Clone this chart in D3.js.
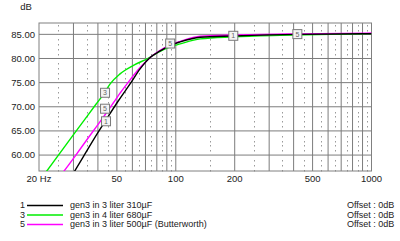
<!DOCTYPE html>
<html>
<head>
<meta charset="utf-8">
<script src="https://cdn.jsdelivr.net/npm/d3@7"></script>
<style>
  html, body { margin: 0; padding: 0; background: #fff; }
  svg { display: block; font-family: "Liberation Sans", Arial, sans-serif; }
</style>
</head>
<body>
<div id="chart"></div>
<script>
// Courbes de réponse (fréquence en Hz, niveau en dB)
const blackFreq = [30.2, 33.6, 40.2, 44.0, 50.9, 58.4, 65.7, 74.0, 83.2, 93.6, 105.3, 133.3, 196.7, 418, 1000];
const blackDb   = [56.46, 59.58, 64.79, 67.29, 71.25, 74.73, 77.85, 80.21, 81.56, 82.71, 83.44, 84.4, 84.65, 85.0, 85.12];

const greenFreq = [21.7, 30.6, 39.1, 43.5, 46.2, 51.9, 60.5, 71.4, 83.2, 93.6, 105.3, 133.3, 196.7, 342, 617, 1000];
const greenDb   = [56.46, 64.69, 70.52, 73.06, 74.73, 76.81, 78.54, 79.94, 81.46, 82.40, 83.02, 84.06, 84.48, 84.79, 85.0, 85.15];

const magentaFreq = [26.6, 30.6, 35.2, 40.1, 43.5, 48.0, 51.9, 56.2, 65.7, 74.0, 83.2, 93.6, 105.3, 133.3, 196.7, 418, 1000];
const magentaDb   = [56.46, 59.79, 63.23, 66.35, 68.35, 70.83, 72.81, 74.69, 78.13, 80.21, 81.67, 82.81, 83.54, 84.6, 84.85, 85.1, 85.27];

const seriesIds    = ['1', '3', '5'];
const seriesNames  = ['gen3 in 3 liter 310µF', 'gen3 in 4 liter 680µF', 'gen3 in 3 liter 500µF (Butterworth)'];
const seriesColors = ['#000000', '#00ee00', '#ff00ff'];
const seriesOffset = ['Offset : 0dB', 'Offset : 0dB', 'Offset : 0dB'];

// Marqueurs numérotés (série, fréquence, niveau)
const markerSeries = ['3', '5', '1', '5', '1', '5'];
const markerFreq   = [43.5, 43.5, 44.0, 93.6, 196.7, 418];
const markerDb     = [72.9, 69.6, 67.0, 83.1, 84.7, 85.05];

const yTicks = [60, 65, 70, 75, 80, 85];
const xTickValues = [20, 50, 100, 200, 500, 1000];
const xTickLabels = ['20 Hz', '50', '100', '200', '500', '1000'];
const majorFreqs = [30, 40, 50, 60, 70, 80, 90, 100, 200, 300, 400, 500, 600, 700, 800, 900];
const minorFreqs = [25, 35, 45, 55, 65, 75, 85, 95, 150, 250, 350, 450, 550, 650, 750, 850, 950];

const width = 400;
const height = 241;
const plot = { left: 39, right: 371.5, top: 23, bottom: 171 };

const svg = d3.select('#chart')
    .append('svg')
    .attr('width', width)
    .attr('height', height);

const x = d3.scaleLog().domain([20, 1000]).range([plot.left, plot.right]);
const y = d3.scaleLinear().domain([56.7, 87.35]).range([plot.bottom, plot.top]);

// Points de la grille secondaire (1 dB)
const dotDb = d3.range(57, 88).filter(v => v % 5 !== 0);
const dots = svg.append('g');
minorFreqs.forEach(f => {
    dots.selectAll(null)
        .data(dotDb)
        .enter()
        .append('rect')
        .attr('x', Math.round(x(f)))
        .attr('y', d => Math.round(y(d)))
        .attr('width', 1)
        .attr('height', 1.5)
        .attr('fill', '#9a9a9a');
});

// Grille principale
svg.append('g')
    .selectAll('line')
    .data(majorFreqs)
    .enter()
    .append('line')
    .attr('x1', d => x(d))
    .attr('x2', d => x(d))
    .attr('y1', plot.top)
    .attr('y2', plot.bottom)
    .attr('stroke', '#7c7c7c')
    .attr('stroke-width', 1);

svg.append('g')
    .selectAll('line')
    .data(yTicks)
    .enter()
    .append('line')
    .attr('x1', plot.left)
    .attr('x2', plot.right)
    .attr('y1', d => y(d))
    .attr('y2', d => y(d))
    .attr('stroke', '#7c7c7c')
    .attr('stroke-width', 1);

// Cadre
svg.append('rect')
    .attr('x', plot.left)
    .attr('y', plot.top)
    .attr('width', plot.right - plot.left)
    .attr('height', plot.bottom - plot.top)
    .attr('fill', 'none')
    .attr('stroke', '#808080')
    .attr('stroke-width', 1);

svg.append('clipPath')
    .attr('id', 'clip')
    .append('rect')
    .attr('x', plot.left)
    .attr('y', plot.top)
    .attr('width', plot.right - plot.left)
    .attr('height', plot.bottom - plot.top);

const line = d3.line()
    .x(d => x(d[0]))
    .y(d => y(d[1]))
    .curve(d3.curveMonotoneX);

const seriesData = {
    '1': d3.zip(blackFreq, blackDb),
    '3': d3.zip(greenFreq, greenDb),
    '5': d3.zip(magentaFreq, magentaDb)
};

const curves = svg.append('g').attr('clip-path', 'url(#clip)');
['3', '5', '1'].forEach(id => {
    const i = seriesIds.indexOf(id);
    curves.append('path')
        .datum(seriesData[id])
        .attr('d', line)
        .attr('fill', 'none')
        .attr('stroke', seriesColors[i])
        .attr('stroke-width', 1.4);
});

// Marqueurs
const markers = svg.append('g')
    .selectAll('g')
    .data(d3.zip(markerSeries, markerFreq, markerDb))
    .enter()
    .append('g')
    .attr('transform', d => `translate(${x(d[1])}, ${y(d[2])})`);

markers.append('rect')
    .attr('x', -4.5)
    .attr('y', -4.5)
    .attr('width', 9)
    .attr('height', 9)
    .attr('fill', '#f4f4f4')
    .attr('stroke', '#7a7a7a')
    .attr('stroke-width', 1);

markers.append('text')
    .attr('text-anchor', 'middle')
    .attr('dy', '0.35em')
    .style('font-size', '7px')
    .style('fill', '#666')
    .text(d => d[0]);

// Axes
svg.append('g')
    .selectAll('text')
    .data(yTicks)
    .enter()
    .append('text')
    .attr('x', 35)
    .attr('y', d => y(d))
    .attr('dy', '0.35em')
    .attr('text-anchor', 'end')
    .style('font-size', '9.5px')
    .style('fill', '#222')
    .text(d => d.toFixed(2));

svg.append('text')
    .attr('x', 26)
    .attr('y', 7)
    .attr('dy', '0.35em')
    .attr('text-anchor', 'middle')
    .style('font-size', '9.5px')
    .style('fill', '#222')
    .text('dB');

svg.append('g')
    .selectAll('text')
    .data(d3.zip(xTickValues, xTickLabels))
    .enter()
    .append('text')
    .attr('x', d => x(d[0]))
    .attr('y', 178.5)
    .attr('dy', '0.35em')
    .attr('text-anchor', 'middle')
    .style('font-size', '9.5px')
    .style('fill', '#222')
    .text(d => d[1]);

// Légende
const legendY = [205, 214.5, 224];
const legend = svg.append('g')
    .selectAll('g')
    .data(seriesIds)
    .enter()
    .append('g')
    .attr('transform', (d, i) => `translate(0, ${legendY[i]})`);

legend.append('text')
    .attr('x', 25)
    .attr('dy', '0.35em')
    .attr('text-anchor', 'end')
    .style('font-size', '9px')
    .style('fill', '#222')
    .text(d => d);

legend.append('line')
    .attr('x1', 27)
    .attr('x2', 63)
    .attr('y1', 0.5)
    .attr('y2', 0.5)
    .attr('stroke', (d, i) => seriesColors[i])
    .attr('stroke-width', 1.5);

legend.append('text')
    .attr('x', 70)
    .attr('dy', '0.35em')
    .style('font-size', '9px')
    .style('fill', '#222')
    .text((d, i) => seriesNames[i]);

legend.append('text')
    .attr('x', 347)
    .attr('dy', '0.35em')
    .style('font-size', '9px')
    .style('fill', '#222')
    .text((d, i) => seriesOffset[i]);
</script>
</body>
</html>
